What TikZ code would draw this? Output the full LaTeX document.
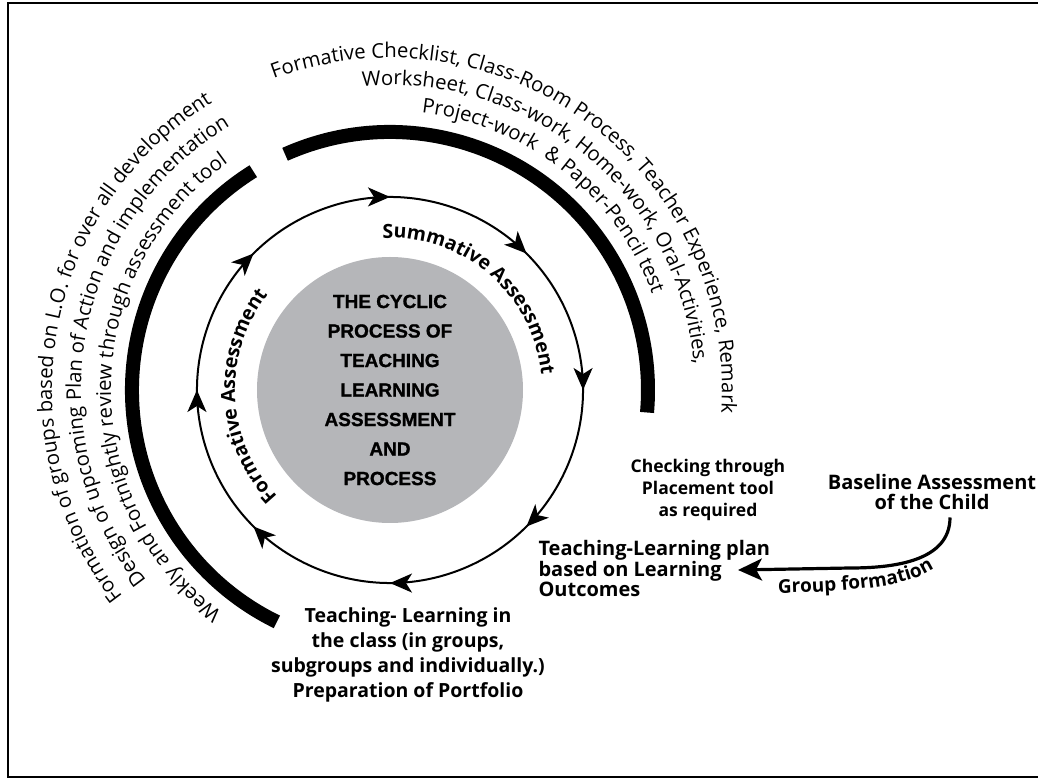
\documentclass[tikz,border=0pt]{standalone}
\usepackage{fontspec}
\setmainfont{Open Sans}
\newfontfamily\heavyfont[BoldFeatures={FakeBold=1.2}]{Liberation Sans}
\usetikzlibrary{decorations.text,decorations.markings,arrows.meta}
\definecolor{hubgray}{RGB}{181,182,185}
\newcommand{\arcfont}{\fontsize{20.3}{23}\selectfont}
\newcommand{\arcbold}{\bfseries\fontsize{19.5}{23}\selectfont}
\begin{document}
\begin{tikzpicture}[x=1pt,y=1pt,
  ring/.style={line width=2pt, postaction={decorate},
    decoration={markings, mark=between positions 0.0625 and 0.99 step 0.125 with {\arrow{Stealth[length=22pt,width=19pt,inset=6pt]}}}},
  thickarc/.style={line width=14pt},
  lbl/.style={align=center, font=\bfseries\fontsize{19}{21}\selectfont},
]
\useasboundingbox (-390,-388) rectangle (648,390);
% frame
\draw[line width=2pt] (648,386.5) -- (-382,386.5) -- (-382,-386.5) -- (648,-386.5);

% central hub
\node[circle, fill=hubgray, minimum size=266pt, inner sep=0pt, align=center,
      font=\heavyfont\bfseries\fontsize{19}{29.5}\selectfont] (hub) at (0,0)
  {THE CYCLIC\\PROCESS OF\\TEACHING\\LEARNING\\ASSESSMENT\\AND\\PROCESS};

% ring of arrows
\draw[ring] (112.5:193) arc[start angle=112.5, end angle=-247.5, radius=193];

% thick arcs
\draw[thickarc] (122:258) arc[start angle=122, end angle=244, radius=258];
\draw[thickarc] (114:258) arc[start angle=114, end angle=-5, radius=258];

% inner arc labels
\path[decorate, decoration={text along path, text align=left,
  text={|\arcbold|Summative Assessment}}]
  (92.8:152) arc[start angle=92.8, end angle=-20, radius=152];
\path[decorate, decoration={text along path, text align=left,
  text={|\arcbold|Formative Assessment}}]
  (223.4:155) arc[start angle=223.4, end angle=100, radius=155];

% top-right arc texts
\path[decorate, decoration={text along path, text align=left,
  text={|\arcfont|Formative Checklist, Class-Room Process, Teacher Experience, Remark}}]
  (110.5:332) arc[start angle=110.5, end angle=-40, radius=332];
\path[decorate, decoration={text along path, text align=left,
  text={|\arcfont|Worksheet, Class-work, Home-work, Oral-Activities,}}]
  (95.2:305) arc[start angle=95.2, end angle=-40, radius=305];
\path[decorate, decoration={text along path, text align=left,
  text={|\arcfont|Project-work {\ }{\&} Paper-Pencil test}}]
  (83.5:279) arc[start angle=83.5, end angle=-40, radius=279];

% left arc texts
\path[decorate, decoration={text along path, text align=left,
  text={|\arcfont|Weekly and Fortnightly review through assessment tool}}]
  (233:279) arc[start angle=233, end angle=90, radius=279];
\path[decorate, decoration={text along path, text align=left,
  text={|\arcfont|Design of upcoming Plan of Action and implementation}}]
  (218:309) arc[start angle=218, end angle=90, radius=309];
\path[decorate, decoration={text along path, text align=left,
  text={|\arcfont|Formation of groups based on L.O. for over all development}}]
  (217.7:338) arc[start angle=217.7, end angle=90, radius=338];

% labels
\node[lbl, font=\bfseries\fontsize{19.5}{25}\selectfont] (portfolio) at (18,-264.5)
  {Teaching- Learning in\\the class (in groups,\\subgroups and individually.)\\Preparation of Portfolio};
\node[lbl, align=left, anchor=west, font=\bfseries\fontsize{20}{20.5}\selectfont] (plan) at (145,-178.5)
  {Teaching-Learning plan\\based on Learning\\Outcomes};
\node[lbl, font=\bfseries\fontsize{17.5}{22}\selectfont] (checking) at (318,-100)
  {Checking through\\Placement tool\\as required};
\node[lbl, font=\bfseries\fontsize{20}{20.5}\selectfont] (baseline) at (542,-102)
  {Baseline Assessment\\of the Child};

% group formation arrow
\coordinate (gtip) at (348,-180);
\draw[line width=3.2pt, -{Stealth[length=24pt,width=22pt,inset=6pt]}]
  ([xshift=18pt,yshift=-4pt]baseline.south) to[out=-90, in=0] (460,-178) -- (gtip);
\path[decorate, decoration={text along path, text align=left,
  text={|\bfseries\fontsize{19}{21}\selectfont|Group formation}}]
  (388,-203) .. controls (480,-201) and (525,-196) .. (553,-172);
\end{tikzpicture}
\end{document}
